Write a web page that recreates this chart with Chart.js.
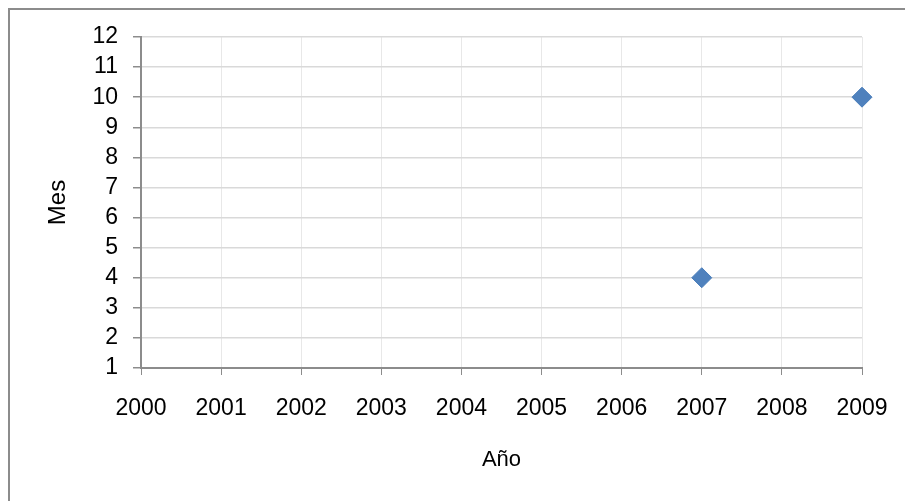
<!DOCTYPE html>
<html>
<head>
<meta charset="utf-8">
<script src="https://cdn.jsdelivr.net/npm/chart.js@4/dist/chart.umd.min.js"></script>
<style>
  html, body { margin: 0; padding: 0; background: #ffffff; }
  #wrap { width: 905px; height: 501px; position: relative; }
</style>
</head>
<body>
<div id="wrap"><canvas id="c" width="905" height="501"></canvas></div>
<script>
// Observations: year and month
const years = [2007, 2009];
const months = [4, 10];

// Axis ranges and titles
const yearRange = [2000, 2009];
const monthRange = [1, 12];
const xTitle = 'Año';
const yTitle = 'Mes';

const points = years.map((y, i) => ({ x: y, y: months[i] }));

const FONT = "'Liberation Sans', Arial, sans-serif";

// Frame around the whole chart
const framePlugin = {
  id: 'frame',
  beforeDraw(chart) {
    const ctx = chart.ctx;
    ctx.save();
    ctx.fillStyle = '#ffffff';
    ctx.fillRect(0, 0, chart.width, chart.height);
    ctx.strokeStyle = '#8c8c8c';
    ctx.lineWidth = 2;
    ctx.strokeRect(9, 9, chart.width + 20, chart.height + 20);
    ctx.restore();
  }
};

new Chart(document.getElementById('c'), {
  type: 'scatter',
  data: {
    datasets: [{
      data: points,
      pointStyle: 'rectRot',
      pointRadius: 10,
      pointHoverRadius: 10,
      backgroundColor: '#4F81BD',
      borderColor: '#4A7EBB',
      borderWidth: 1,
      clip: false
    }]
  },
  options: {
    responsive: false,
    animation: false,
    events: [],
    layout: { padding: { top: 37, right: 43, left: 0, bottom: 0 } },
    plugins: {
      legend: { display: false },
      tooltip: { enabled: false }
    },
    scales: {
      x: {
        type: 'linear',
        min: yearRange[0],
        max: yearRange[1],
        afterFit(scale) {
          scale.height = 133;
          scale.paddingLeft = 0;
          scale.paddingRight = 0;
        },
        ticks: {
          stepSize: 1,
          autoSkip: false,
          maxRotation: 0,
          color: '#000000',
          font: { family: FONT, size: 23 },
          padding: 20,
          callback: v => String(v)
        },
        grid: {
          color: '#e8e8e8',
          lineWidth: 1,
          tickLength: 7,
          tickColor: '#8c8c8c',
          drawTicks: true
        },
        border: { color: '#8c8c8c', width: 2 },
        title: {
          display: true,
          text: xTitle,
          color: '#000000',
          font: { family: FONT, size: 22 },
          padding: { top: 0, bottom: 28 }
        }
      },
      y: {
        type: 'linear',
        min: monthRange[0],
        max: monthRange[1],
        afterFit(scale) { scale.width = 141; },
        ticks: {
          stepSize: 1,
          autoSkip: false,
          color: '#000000',
          font: { family: FONT, size: 23 },
          padding: 15
        },
        grid: {
          color: '#d9d9d9',
          lineWidth: 1.5,
          tickLength: 8,
          tickColor: '#8c8c8c',
          drawTicks: true
        },
        border: { color: '#8c8c8c', width: 2 },
        title: {
          display: true,
          text: yTitle,
          color: '#000000',
          font: { family: FONT, size: 24 },
          padding: { top: 44, bottom: 0 }
        }
      }
    }
  },
  plugins: [framePlugin]
});
</script>
</body>
</html>
